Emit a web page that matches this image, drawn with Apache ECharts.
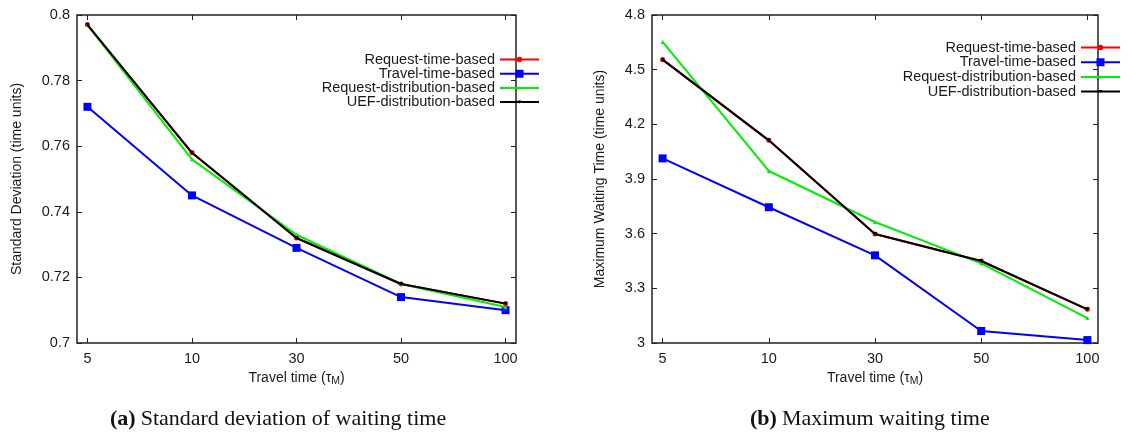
<!DOCTYPE html>
<html>
<head>
<meta charset="utf-8">
<script src="https://cdn.jsdelivr.net/npm/echarts@6/dist/echarts.min.js"></script>
<style>
html,body{margin:0;padding:0;background:#fff;}
#chart{width:1142px;height:441px;}
</style>
</head>
<body>
<div id="chart"></div>
<script>
// ---- data ----
var categories = ['5', '10', '30', '50', '100'];
var seriesNames = ['Request-time-based', 'Travel-time-based', 'Request-distribution-based', 'UEF-distribution-based'];

var sdRequestTime = [0.797, 0.758, 0.732, 0.718, 0.712];
var sdTravelTime  = [0.772, 0.745, 0.729, 0.714, 0.710];
var sdRequestDist = [0.797, 0.756, 0.733, 0.718, 0.711];
var sdUefDist     = [0.797, 0.758, 0.732, 0.718, 0.712];

var maxRequestTime = [4.555, 4.112, 3.598, 3.450, 3.185];
var maxTravelTime  = [4.013, 3.745, 3.481, 3.066, 3.016];
var maxRequestDist = [4.652, 3.944, 3.664, 3.437, 3.137];
var maxUefDist     = [4.555, 4.112, 3.598, 3.450, 3.185];

var sdTicks  = [0.7, 0.72, 0.74, 0.76, 0.78, 0.8];
var maxTicks = [3, 3.3, 3.6, 3.9, 4.2, 4.5, 4.8];

// ---- styling ----
var FONT = '"Liberation Sans", Arial, sans-serif';
var SERIF = '"Liberation Serif", "Times New Roman", serif';
var TXT = '#1a1a1a';
var FRAME = '#222';
var colors = ['#ff0000', '#0000ff', '#00ee00', '#000000'];
var symbols = ['circle', 'rect', 'triangle', 'triangle'];
var symbolSizes = [5, 8, 4, 4];
var symbolRot = [0, 0, 0, 180];

var anchor = 'M0,0 L0,0 M39,10 L39,10 ';
var lineRect = 'M0,4 L39,4 L39,6 L0,6 Z ';
var legendIcons = [
  'path://' + anchor + lineRect + 'M16.7,5 A2.8,2.8 0 1 1 22.3,5 A2.8,2.8 0 1 1 16.7,5 Z',
  'path://' + anchor + lineRect + 'M15.5,1 L23.5,1 L23.5,9 L15.5,9 Z',
  'path://' + anchor + lineRect + 'M17.7,6.6 L19.5,3.4 L21.3,6.6 Z',
  'path://' + anchor + lineRect + 'M17.7,3.4 L21.3,3.4 L19.5,6.6 Z'
];

var idx = categories.map(function (c, i) { return i; });
function pairs(arr) { return arr.map(function (v, i) { return [i, v]; }); }

var tickStyle = { color: FRAME, width: 1 };

function xAxes(gridIndex) {
  return [{
    type: 'value', gridIndex: gridIndex, position: 'bottom',
    min: -0.1, max: 4.1,
    axisLine: { show: false, onZero: false },
    splitLine: { show: false },
    axisTick: { show: true, inside: true, length: 5, customValues: idx, lineStyle: tickStyle },
    axisLabel: { show: true, customValues: idx, margin: 8, color: TXT, fontFamily: FONT, fontSize: 14.5,
      formatter: function (v) { return categories[Math.round(v)]; } },
    name: '{a|Travel time (τ}{s|M}{a|)}',
    nameLocation: 'middle', nameGap: 25,
    nameTextStyle: {
      rich: {
        a: { fontFamily: FONT, fontSize: 14, color: TXT },
        s: { fontFamily: FONT, fontSize: 10.5, color: TXT, verticalAlign: 'bottom', padding: [6, 0, 0, 0] }
      }
    }
  }, {
    type: 'value', gridIndex: gridIndex, position: 'top',
    min: -0.1, max: 4.1,
    axisLine: { show: false, onZero: false },
    splitLine: { show: false },
    axisTick: { show: true, inside: true, length: 5, customValues: idx, lineStyle: tickStyle },
    axisLabel: { show: false }
  }];
}

function yAxes(gridIndex, ticks, name, nameGap) {
  var mn = ticks[0], mx = ticks[ticks.length - 1];
  var iv = +(ticks[1] - ticks[0]).toFixed(6);
  return [{
    type: 'value', gridIndex: gridIndex, position: 'left',
    min: mn, max: mx, interval: iv,
    axisLine: { show: false, onZero: false },
    splitLine: { show: false },
    axisTick: { show: true, inside: true, length: 5, lineStyle: tickStyle },
    axisLabel: { margin: 7, color: TXT, fontFamily: FONT, fontSize: 14.5 },
    name: name, nameLocation: 'middle', nameGap: nameGap, nameRotate: 90,
    nameTextStyle: { fontFamily: FONT, fontSize: 14, color: TXT }
  }, {
    type: 'value', gridIndex: gridIndex, position: 'right',
    min: mn, max: mx, interval: iv,
    axisLine: { show: false, onZero: false },
    splitLine: { show: false },
    axisTick: { show: true, inside: true, length: 5, lineStyle: tickStyle },
    axisLabel: { show: false }
  }];
}

function makeSeries(datasets, xi, yi) {
  return datasets.map(function (d, k) {
    return {
      type: 'line', name: seriesNames[k],
      xAxisIndex: xi, yAxisIndex: yi,
      data: pairs(d),
      symbol: symbols[k], symbolSize: symbolSizes[k], symbolRotate: symbolRot[k],
      showSymbol: true,
      lineStyle: { color: colors[k], width: 2 },
      itemStyle: { color: colors[k], borderWidth: 0 },
      emphasis: { disabled: true },
      animation: false,
      z: 2 + k
    };
  });
}

function legend(right, top, gap) {
  return {
    orient: 'vertical', align: 'right',
    right: right, top: top,
    itemWidth: 39, itemHeight: 10, itemGap: gap,
    padding: 0,
    selectedMode: false,
    itemStyle: { borderWidth: 0 },
    textStyle: { fontFamily: FONT, fontSize: 14.5, color: TXT, lineHeight: 14.2, padding: [0, 0, 0, 0] },
    data: seriesNames.map(function (n, k) { return { name: n, icon: legendIcons[k] }; })
  };
}

function caption(label, text, left) {
  return {
    text: '{b|' + label + '} {n|' + text + '}', left: left, top: 408, padding: 0,
    textStyle: {
      fontWeight: 'normal',
      rich: {
        b: { fontFamily: SERIF, fontWeight: 'bold', fontSize: 22, color: '#111' },
        n: { fontFamily: SERIF, fontWeight: 'normal', fontSize: 22, color: '#111' }
      }
    }
  };
}

var chart = echarts.init(document.getElementById('chart'), null, { renderer: 'canvas' });
chart.setOption({
  animation: false,
  backgroundColor: '#fff',
  grid: [
    { left: 77, top: 15, right: 626, bottom: 98, show: true, borderColor: FRAME, borderWidth: 1.5, backgroundColor: 'transparent' },
    { left: 652, top: 15, right: 44, bottom: 98, show: true, borderColor: FRAME, borderWidth: 1.5, backgroundColor: 'transparent' }
  ],
  xAxis: xAxes(0).concat(xAxes(1)),
  yAxis: yAxes(0, sdTicks, 'Standard Deviation (time units)', 53)
    .concat(yAxes(1, maxTicks, 'Maximum Waiting Time (time units)', 45)),
  legend: [legend(603, 52, -0.8), legend(22, 40, -0.3)],
  title: [
    caption('(a)', 'Standard deviation of waiting time', 110),
    caption('(b)', 'Maximum waiting time', 750)
  ],
  series: makeSeries([sdRequestTime, sdTravelTime, sdRequestDist, sdUefDist], 0, 0)
    .concat(makeSeries([maxRequestTime, maxTravelTime, maxRequestDist, maxUefDist], 2, 2))
});
</script>
</body>
</html>
